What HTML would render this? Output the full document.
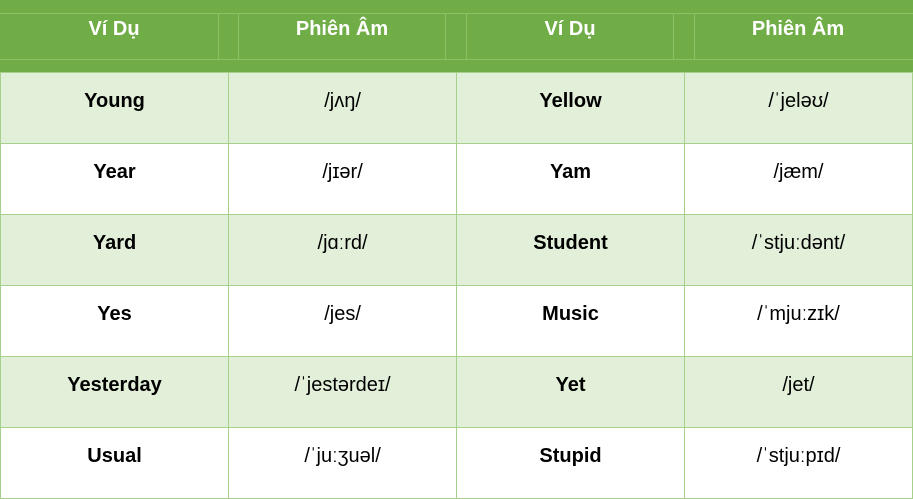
<!DOCTYPE html><html><head><style>
body{margin:0;width:913px;height:496px;overflow:hidden;background:#fff;font-family:"Liberation Sans",sans-serif}
.h{position:absolute;left:0;top:0;width:913px;height:72px;background:#70ad47}
.hl{position:absolute;left:0;width:913px;height:1px;background:#8cc068}
.hv{position:absolute;top:13px;height:47px;width:1px;background:#8cc068}
.ht{position:absolute;top:15px;width:228px;text-align:center;color:#fff;font-weight:bold;font-size:20px;line-height:28px}
table{position:absolute;left:0;top:72px;border-collapse:collapse;width:913px}
td{border:1px solid #a8d08d;height:56px;padding:0 0 14px 0;text-align:center;font-size:20px;color:#000;width:228px}
td.b{font-weight:bold}
tr.g td{background:#e2efd9}
</style></head><body>
<div class="h"></div>
<div class="hl" style="top:13px"></div><div class="hl" style="top:59px"></div>
<div class="hv" style="left:218px"></div><div class="hv" style="left:238px"></div>
<div class="hv" style="left:445px"></div><div class="hv" style="left:466px"></div>
<div class="hv" style="left:673px"></div><div class="hv" style="left:694px"></div>
<div class="ht" style="left:0">Ví Dụ</div><div class="ht" style="left:228px">Phiên Âm</div>
<div class="ht" style="left:456px">Ví Dụ</div><div class="ht" style="left:684px">Phiên Âm</div>
<table>
<tr class="g"><td class="b">Young</td><td>/jʌŋ/</td><td class="b">Yellow</td><td>/ˈjeləʊ/</td></tr>
<tr><td class="b">Year</td><td>/jɪər/</td><td class="b">Yam</td><td>/jæm/</td></tr>
<tr class="g"><td class="b">Yard</td><td>/jɑːrd/</td><td class="b">Student</td><td>/ˈstjuːdənt/</td></tr>
<tr><td class="b">Yes</td><td>/jes/</td><td class="b">Music</td><td>/ˈmjuːzɪk/</td></tr>
<tr class="g"><td class="b">Yesterday</td><td>/ˈjestərdeɪ/</td><td class="b">Yet</td><td>/jet/</td></tr>
<tr><td class="b">Usual</td><td>/ˈjuːʒuəl/</td><td class="b">Stupid</td><td>/ˈstjuːpɪd/</td></tr>
</table>
</body></html>
